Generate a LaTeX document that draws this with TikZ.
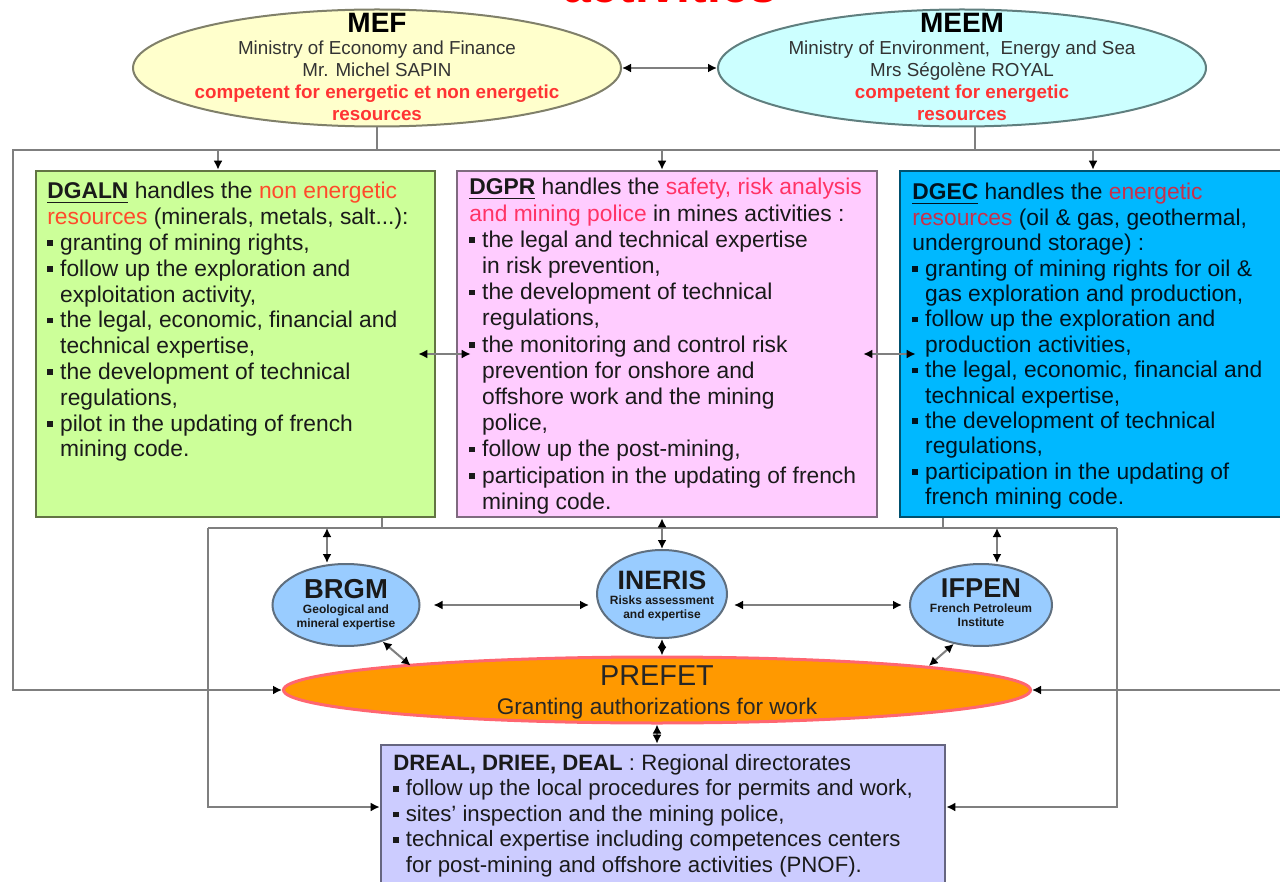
\documentclass[tikz,border=0pt]{standalone}
\usepackage{fontspec}
\setmainfont{Liberation Sans}
\usetikzlibrary{positioning, arrows.meta, shapes.geometric}
\definecolor{mefbg}{HTML}{FFFFCC}
\definecolor{mefline}{HTML}{80806A}
\definecolor{meembg}{HTML}{CCFFFF}
\definecolor{meemline}{HTML}{607F7F}
\definecolor{dgalnbg}{HTML}{CCFF99}
\definecolor{dgalnline}{HTML}{627443}
\definecolor{dgprbg}{HTML}{FFCCFF}
\definecolor{dgprline}{HTML}{7F6A7F}
\definecolor{dgecbg}{HTML}{00B8FF}
\definecolor{dgecline}{HTML}{00506E}
\definecolor{agbg}{HTML}{99CCFF}
\definecolor{agline}{HTML}{5F6F7F}
\definecolor{prefetbg}{HTML}{FF9900}
\definecolor{prefetline}{HTML}{FF6670}
\definecolor{drealbg}{HTML}{CCCCFF}
\definecolor{drealline}{HTML}{666680}
\definecolor{linkgray}{HTML}{7F7F7F}
\definecolor{titlered}{HTML}{FF0000}
\definecolor{minred}{HTML}{FF3333}
\definecolor{mintx}{HTML}{333333}
\definecolor{bodytx}{HTML}{1A1A1A}
\definecolor{dgecred}{HTML}{C8304A}
\definecolor{dgectx}{HTML}{00131F}
\definecolor{dgalnred}{HTML}{FF4A2A}
\definecolor{dgprred}{HTML}{FF3366}
\newcommand{\itm}{\rule[0.2em]{0.24em}{0.24em}\hspace{0.32em}}
\newcommand{\ind}{\hphantom{\itm}}
\newcommand{\head}[1]{\underline{\textbf{#1}}}
\tikzset{
  ministry/.style={ellipse, draw, line width=1pt, minimum width=244pt, minimum height=58.5pt, inner sep=0pt},
  mintext/.style={align=center, inner sep=0pt, anchor=north, font=\fontsize{9.4}{11}\selectfont, text=mintx},
  dirbox/.style={draw, line width=1.3pt, inner sep=0pt, minimum width=199.5pt, minimum height=173pt},
  dirtext/.style={align=left, inner sep=0pt, anchor=north west, font=\fontsize{11.4}{12.9}\selectfont, text=bodytx},
  agency/.style={ellipse, draw=agline, fill=agbg, line width=1pt, inner sep=0pt},
  agtext/.style={align=center, inner sep=0pt, font=\fontsize{6}{7.2}\selectfont\bfseries, text=bodytx},
  link/.style={draw=linkgray, line width=1pt},
  oneway/.style={link, -{Latex[length=4.5pt, width=4.5pt, color=black]}},
  both/.style={link, {Latex[length=4.5pt, width=4.5pt, color=black]}-{Latex[length=4.5pt, width=4.5pt, color=black]}}
}
\begin{document}
\begin{tikzpicture}[x=0.5pt, y=-0.5pt]
\useasboundingbox (0,0) rectangle (1280,882);
% title, cut off at the top
\node[anchor=base, text=titlered, font=\fontsize{25}{25}\selectfont\bfseries, inner sep=0pt] (title) at (670,3) {activities};

% ministries
\node[ministry, draw=mefline, fill=mefbg] (mef) at (377,68) {};
\node[mintext] (meftx) at (377,13) {{\fontsize{14}{14}\selectfont\bfseries\color{black}MEF}\\
  Ministry of Economy and Finance\\ Mr. Michel SAPIN\\
  \textcolor{minred}{\textbf{competent for energetic et non energetic}}\\ \textcolor{minred}{\textbf{resources}}};
\node[ministry, draw=meemline, fill=meembg] (meem) at (962,68) {};
\node[mintext] (meemtx) at (962,13) {{\fontsize{14}{14}\selectfont\bfseries\color{black}MEEM}\\
  Ministry of Environment,\ \ Energy and Sea\\ Mrs Ségolène ROYAL\\
  \textcolor{minred}{\textbf{competent for energetic}}\\ \textcolor{minred}{\textbf{resources}}};
\draw[both] (mef.east) -- (meem.west);

% directorates
\node[dirbox, draw=dgalnline, fill=dgalnbg] (dgaln) at (235.5,344) {};
\node[dirbox, draw=dgprline, fill=dgprbg, minimum width=210pt] (dgpr) at (667,344) {};
\node[dirbox, draw=dgecline, fill=dgecbg, minimum width=200pt] (dgec) at (1100,344) {};
\node[dirtext] (dgalntx) at (47,182) {\head{DGALN} handles the \textcolor{dgalnred}{non energetic}\\
  \textcolor{dgalnred}{resources} (minerals, metals, salt...):\\
  \itm granting of mining rights,\\
  \itm follow up the exploration and\\ \ind exploitation activity,\\
  \itm the legal, economic, financial and\\ \ind technical expertise,\\
  \itm the development of technical\\ \ind regulations,\\
  \itm pilot in the updating of french\\ \ind mining code.};
\node[dirtext, font=\fontsize{11.4}{13.1}\selectfont] (dgprtx) at (469,178) {\head{DGPR} handles the \textcolor{dgprred}{safety, risk analysis}\\
  \textcolor{dgprred}{and mining police} in mines activities :\\
  \itm the legal and technical expertise\\ \ind in risk prevention,\\
  \itm the development of technical\\ \ind regulations,\\
  \itm the monitoring and control risk\\ \ind prevention for onshore and\\ \ind offshore work and the mining\\ \ind police,\\
  \itm follow up the post-mining,\\
  \itm participation in the updating of french\\ \ind mining code.};
\node[dirtext, text=dgectx, font=\fontsize{11.4}{12.7}\selectfont] (dgectx) at (912,183) {\head{DGEC} handles the \textcolor{dgecred}{energetic}\\
  \textcolor{dgecred}{resources} (oil \& gas, geothermal,\\ underground storage) :\\
  \itm granting of mining rights for oil \&\\ \ind gas exploration and production,\\
  \itm follow up the exploration and\\ \ind production activities,\\
  \itm the legal, economic, financial and\\ \ind technical expertise,\\
  \itm the development of technical\\ \ind regulations,\\
  \itm participation in the updating of\\ \ind french mining code.};

% top bar and outer frame
\coordinate (bar) at (13,150);
\coordinate (meemfoot) at ([xshift=6.5pt]meem.south);
\draw[link] (mef.south) -- (mef.south |- bar);
\draw[link] (meemfoot) -- (meemfoot |- bar);
\coordinate (d1) at (218,150);
\coordinate (d2) at (662,150);
\coordinate (d3) at (1093,150);
\draw[oneway] (d1) -- (d1 |- dgaln.north);
\draw[oneway] (d2) -- (d2 |- dgpr.north);
\draw[oneway] (d3) -- (d3 |- dgec.north);
\draw[both] ([shift={(-18,10)}]dgaln.east) -- ([shift={(15,10)}]dgpr.west);
\draw[both] ([shift={(-15,10)}]dgpr.east) -- ([shift={(17,10)}]dgec.west);

% prefet
\node[ellipse, draw=prefetline, fill=prefetbg, line width=1.5pt, minimum width=373.5pt, minimum height=33pt, inner sep=0pt] (prefet) at (657,690) {};
\node[align=center, inner sep=0pt, font=\fontsize{11.3}{14.5}\selectfont, text=black!85] (prefettx) at (657,692) {{\fontsize{14.4}{14.5}\selectfont PREFET}\\Granting authorizations for work};
\draw[oneway] (1300,150) -- (bar) |- (prefet.west);
\draw[oneway] (1300,690) -- (prefet.east);

% regional directorates
\node[dirbox, draw=drealline, fill=drealbg, minimum width=282pt, minimum height=77pt] (dreal) at (663,822) {};
\node[dirtext, font=\fontsize{11.1}{12.75}\selectfont] (drealtx) at (393,754) {\textbf{DREAL, DRIEE, DEAL} : Regional directorates\\
  \itm follow up the local procedures for permits and work,\\
  \itm sites’ inspection and the mining police,\\
  \itm technical expertise including competences centers\\ \ind for post-mining and offshore activities (PNOF).};
\draw[both] (prefet.south) -- (prefet.south |- dreal.north);

% lower frame
\coordinate (lowL) at (208,528);
\coordinate (lowR) at (1117,528);
\draw[link] ([xshift=73.25pt]dgaln.south) -- ++(0,11);
\draw[link] ([xshift=-78.5pt]dgec.south) -- ++(0,11);
\draw[link] (lowL) -- (lowR);
\draw[oneway] (lowL) |- ([yshift=7.5pt]dreal.west);
\draw[oneway] (lowR) |- ([yshift=7.5pt]dreal.east);

% expertise agencies
\node[agency, minimum width=73.5pt, minimum height=41pt] (brgm) at (346,605) {};
\node[agency, minimum width=65pt, minimum height=44pt] (ineris) at (662,594) {};
\node[agency, minimum width=71pt, minimum height=41pt] (ifpen) at (981,605) {};
\node[agtext] (brgmtx) at (346,605) {{\fontsize{13.7}{14}\selectfont BRGM}\\Geological and\\mineral expertise};
\node[agtext] (ineristx) at (662,596) {{\fontsize{13.3}{14}\selectfont INERIS}\\Risks assessment\\and expertise};
\node[agtext] (ifpentx) at (981,603) {{\fontsize{13.6}{14}\selectfont IFPEN}\\French Petroleum\\Institute};
\coordinate (bt) at (327,528);
\coordinate (it) at (997,528);
\draw[both] (bt) -- (bt |- brgm.north);
\draw[both] (it) -- (it |- ifpen.north);
\draw[both] (ineris.north |- dgpr.south) -- (ineris.north);
\draw[both] (ineris.south) -- (ineris.south |- prefet.north);
\coordinate (mid1) at (brgm.east -| ineris.west);
\coordinate (mid2) at (ineris.east |- ifpen.west);
\draw[both] ([xshift=6.5pt]brgm.east) -- ([xshift=-3.5pt]mid1);
\draw[both] ([xshift=3pt]mid2) -- ([xshift=-3.5pt]ifpen.west);
\draw[both] (brgm.-45) -- ++(28,24);
\draw[both] (ifpen.-125) -- ++(-25,22);
\end{tikzpicture}
\end{document}
